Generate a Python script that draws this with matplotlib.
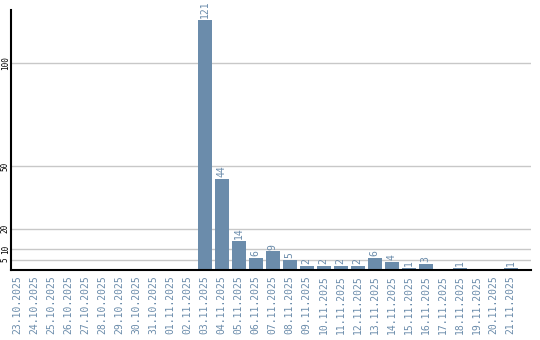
import matplotlib.pyplot as plt

dates = ["23.10.2025", "24.10.2025", "25.10.2025", "26.10.2025", "27.10.2025",
         "28.10.2025", "29.10.2025", "30.10.2025", "31.10.2025", "01.11.2025",
         "02.11.2025", "03.11.2025", "04.11.2025", "05.11.2025", "06.11.2025",
         "07.11.2025", "08.11.2025", "09.11.2025", "10.11.2025", "11.11.2025",
         "12.11.2025", "13.11.2025", "14.11.2025", "15.11.2025", "16.11.2025",
         "17.11.2025", "18.11.2025", "19.11.2025", "20.11.2025", "21.11.2025"]
counts = [0, 0, 0, 0, 0, 0, 0, 0, 0, 0, 0,
          121, 44, 14, 6, 9, 5, 2, 2, 2, 2, 6, 4, 1, 3, 0, 1, 0, 0, 1]
yticks = [5, 10, 20, 50, 100]

blue = "#6b8cab"
font = "DejaVu Sans Mono"

fig = plt.figure(figsize=(5.4, 3.4), dpi=100)
ax = fig.add_axes([10.5 / 540, 70 / 340, 520.5 / 540, 260 / 340])

x = list(range(len(dates)))
ax.bar(x, counts, width=0.82, color=blue, zorder=3)
for xi, c in zip(x, counts):
    if c > 0:
        ax.text(xi, c + 0.8, str(c), rotation=90, ha="center", va="bottom",
                color=blue, fontsize=7, family=font)

ax.set_xlim(-0.42, 30.2)
ax.set_ylim(0, 125.6)
ax.set_yticks(yticks)
ax.set_yticklabels([str(t) for t in yticks], rotation=90, va="center",
                   fontsize=5.5, family=font)
ax.set_xticks(x)
ax.set_xticklabels(dates, rotation=90, color=blue, fontsize=7, family=font)
ax.tick_params(axis="y", length=0, pad=0.5)
ax.tick_params(axis="x", length=0, pad=4)
ax.grid(axis="y", color="#c8c8c8", linewidth=1, zorder=0)

for s in ["top", "right"]:
    ax.spines[s].set_visible(False)
ax.spines["left"].set_linewidth(1.5)
ax.spines["bottom"].set_linewidth(1.5)
ax.spines["left"].set_zorder(4)
ax.spines["bottom"].set_zorder(4)

fig.savefig("out.png", dpi=100)
